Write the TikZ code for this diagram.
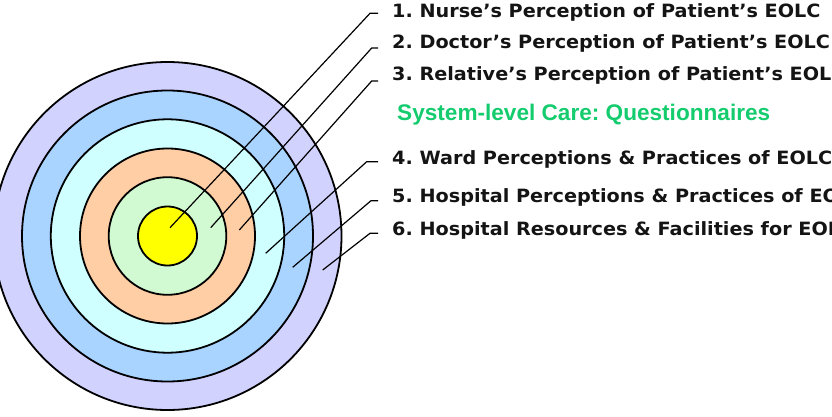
\documentclass[tikz,border=0pt]{standalone}
\usepackage{fontspec}
\newfontfamily\lblfont{DejaVu Sans}[FakeStretch=1.05]
\newfontfamily\grnfont{Liberation Sans}
\frenchspacing
\definecolor{ringA}{RGB}{210,210,255}
\definecolor{ringB}{RGB}{168,212,255}
\definecolor{ringC}{RGB}{208,255,255}
\definecolor{ringD}{RGB}{255,206,164}
\definecolor{ringE}{RGB}{210,250,210}
\definecolor{ringF}{RGB}{255,255,0}
\definecolor{grntext}{RGB}{20,204,110}
\tikzset{
  ring/.style={circle, draw=black, line width=1.8pt, inner sep=0pt, outer sep=0pt},
  leader/.style={draw=black, line width=1.2pt},
  lbl/.style={anchor=base west, inner xsep=14pt, inner ysep=0pt, font=\lblfont\bfseries\fontsize{18.3}{21}\selectfont\frenchspacing, text=black!92},
  grn/.style={anchor=base west, inner sep=0pt, font=\grnfont\bfseries\fontsize{22.6}{26}\selectfont\frenchspacing, text=grntext}
}
\begin{document}
\begin{tikzpicture}[x=1pt,y=1pt]
\useasboundingbox (0,0) rectangle (832,416);
\clip (0,0) rectangle (832,416);
\coordinate (ctr) at (167.5,180);
\node[ring, fill=ringA, minimum size=348pt] (c6) at (ctr) {};
\node[ring, fill=ringB, minimum size=291pt] (c5) at (ctr) {};
\node[ring, fill=ringC, minimum size=233.4pt] (c4) at (ctr) {};
\node[ring, fill=ringD, minimum size=175pt] (c3) at (ctr) {};
\node[ring, fill=ringE, minimum size=117.6pt] (c2) at (ctr) {};
\node[ring, fill=ringF, minimum size=59pt] (c1) at (ctr) {};
% labels
\node[lbl] (t1) at (378,398.5) {1. Nurse’s Perception of Patient’s EOLC};
\node[lbl] (t2) at (378,367) {2. Doctor’s Perception of Patient’s EOLC};
\node[lbl] (t3) at (378,335) {3. Relative’s Perception of Patient’s EOLC};
\node[grn] (g) at (397,296) {System-level Care: Questionnaires};
\node[lbl] (t4) at (378,252) {4. Ward Perceptions \& Practices of EOLC};
\node[lbl] (t5) at (378,214) {5. Hospital Perceptions \& Practices of EOLC};
\node[lbl] (t6) at (378,180.5) {6. Hospital Resources \& Facilities for EOLC};
% leader start points and hook corners
\coordinate (p1) at (170,188.3);
\coordinate (p2) at (210.7,188.3);
\coordinate (p3) at (239.3,186);
\coordinate (p4) at (265.7,162.7);
\coordinate (p5) at (292.7,148.7);
\coordinate (p6) at (322.7,146);
\coordinate (k1) at (370,402.7);
\coordinate (k2) at (371.7,368);
\coordinate (k3) at (371.7,335);
\coordinate (k4) at (366.7,254.3);
\coordinate (k5) at (371,215.3);
\coordinate (k6) at (370,182.7);
\foreach \i in {1,...,6} {
  \draw[leader] (p\i) -- (k\i) -- (k\i -| t\i.west);
}
\end{tikzpicture}
\end{document}
